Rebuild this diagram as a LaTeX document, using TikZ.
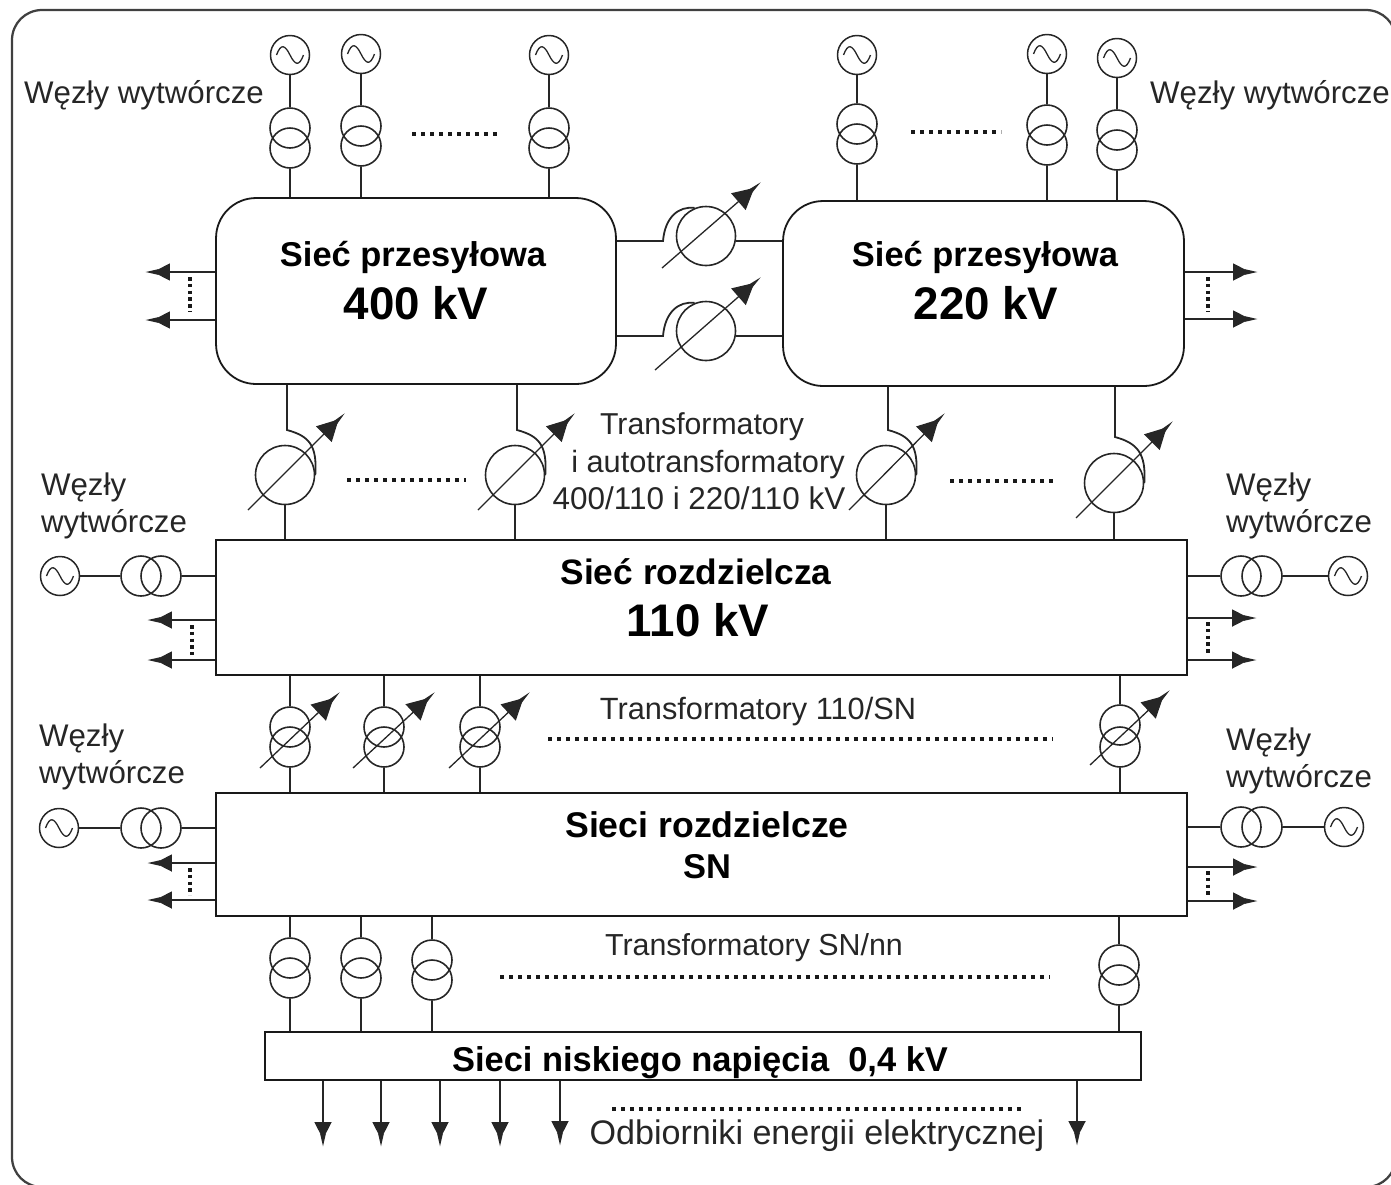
\documentclass[tikz,border=0pt]{standalone}
\usepackage{fontspec}
\setmainfont{Liberation Sans}
\usetikzlibrary{arrows.meta}
\begin{document}
\begin{tikzpicture}[x=0.02cm,y=-0.02cm,
  wire/.style={draw=black!85,line width=0.036cm},
  gen/.style={circle,draw=black!85,line width=0.03cm,minimum size=0.78cm,inner sep=0pt,
    path picture={\draw[line width=0.026cm] ([xshift=-0.27cm]path picture bounding box.center)
      .. controls +(0.09cm,0.24cm) and +(-0.1cm,0.2cm) .. (path picture bounding box.center)
      .. controls +(0.1cm,-0.2cm) and +(-0.09cm,-0.24cm) .. ([xshift=0.27cm]path picture bounding box.center);}},
  coil/.style={circle,draw=black!85,line width=0.032cm,minimum size=0.8cm,inner sep=0pt},
  regu/.style={circle,draw=black!85,line width=0.032cm,minimum size=1.18cm,inner sep=0pt},
  netrd/.style={draw=black!90,line width=0.036cm,rounded corners=0.8cm,inner sep=0pt},
  netbox/.style={draw=black!90,line width=0.04cm,inner sep=0pt},
  load/.style={wire,-{Triangle[length=0.34cm,width=0.34cm,sep=-0.1cm]Triangle[length=0.26cm,width=0.1cm,sep=0pt]}},
  knob/.style={draw=black!85,line width=0.026cm,-{Triangle[length=0.42cm,width=0.44cm,sep=-0.12cm]Triangle[length=0.3cm,width=0.09cm,sep=0pt]}},
  dots/.style={draw=black!90,line width=0.09cm,dash pattern=on 0.08cm off 0.1cm},
  vdots/.style={draw=black!90,line width=0.08cm,dash pattern=on 0.07cm off 0.065cm},
  txt/.style={inner sep=0pt,text=black!85,align=left,font=\fontsize{17.8}{21.5}\selectfont},
  head/.style={inner sep=0pt,font=\bfseries\fontsize{19.6}{24}\selectfont},
  volt/.style={inner sep=0pt,font=\bfseries\fontsize{26}{30}\selectfont}]
\useasboundingbox (0,0) rectangle (1391,1184);
\draw[black!75,line width=0.045cm,rounded corners=0.6cm] (12,10) rectangle (1396,1187);

\node[netrd,minimum width=8cm,minimum height=3.72cm] (b400) at (416,291) {};
\node[netrd,minimum width=8.02cm,minimum height=3.7cm] (b220) at (983.5,293.5) {};
\node[netbox,minimum width=19.42cm,minimum height=2.7cm] (b110) at (701.5,607.5) {};
\node[netbox,minimum width=19.42cm,minimum height=2.46cm] (bsn) at (701.5,854.5) {};
\node[netbox,minimum width=17.52cm,minimum height=0.96cm] (bnn) at (703,1056) {};

\node[head] (t400) at (413,257) {Sieć przesyłowa};
\node[volt] (v400) at (416,303) {400 kV};
\node[head] (t220) at (985,257) {Sieć przesyłowa};
\node[volt] (v220) at (986,303) {220 kV};
\node[head,font=\bfseries\fontsize{20.1}{24}\selectfont] (t110) at (696,572) {Sieć rozdzielcza};
\node[volt] (v110) at (698,620) {110 kV};
\node[head,font=\bfseries\fontsize{20.3}{24}\selectfont] (tsn) at (707,825) {Sieci rozdzielcze};
\node[head] (vsn) at (707,867) {SN};
\node[head] (tnn) at (700,1063) {Sieci niskiego napięcia\ \ 0,4 kV};

\node[txt] (w1) at (144,95) {Węzły wytwórcze};
\node[txt] (w2) at (1270,95) {Węzły wytwórcze};
\node[txt] (w3) at (114,506) {Węzły\\wytwórcze};
\node[txt] (w4) at (1299,506) {Węzły\\wytwórcze};
\node[txt] (w5) at (112,757) {Węzły\\wytwórcze};
\node[txt] (w6) at (1299,761) {Węzły\\wytwórcze};
\node[txt,font=\fontsize{17.2}{21.5}\selectfont] (t1a) at (702,427) {Transformatory};
\node[txt,font=\fontsize{17.5}{21.5}\selectfont] (t1b) at (708,465) {i autotransformatory};
\node[txt,font=\fontsize{17.9}{21.5}\selectfont] (t1c) at (699,498) {400/110 i 220/110 kV};
\node[txt,font=\fontsize{17.5}{21.5}\selectfont] (t2) at (758,712) {Transformatory 110/SN};
\node[txt,font=\fontsize{17.3}{21.5}\selectfont] (t3) at (754,948) {Transformatory SN/nn};
\node[txt,font=\fontsize{19.4}{23}\selectfont] (t4) at (817,1136) {Odbiorniki energii elektrycznej};

\node[gen] (g1) at (290,55) {};
\node[coil] (c1a) at (290,128) {};
\node[coil] (c1b) at (290,148) {};
\draw[wire] (g1) -- (c1a);
\draw[wire] (c1b) -- (c1b |- b400.north);
\node[gen] (g2) at (361,54) {};
\node[coil] (c2a) at (361,126) {};
\node[coil] (c2b) at (361,146) {};
\draw[wire] (g2) -- (c2a);
\draw[wire] (c2b) -- (c2b |- b400.north);
\node[gen] (g3) at (549,55) {};
\node[coil] (c3a) at (549,128) {};
\node[coil] (c3b) at (549,148) {};
\draw[wire] (g3) -- (c3a);
\draw[wire] (c3b) -- (c3b |- b400.north);
\node[gen] (g4) at (857,55) {};
\node[coil] (c4a) at (857,124) {};
\node[coil] (c4b) at (857,144) {};
\draw[wire] (g4) -- (c4a);
\draw[wire] (c4b) -- (c4b |- b220.north);
\node[gen] (g5) at (1047,54) {};
\node[coil] (c5a) at (1047,125) {};
\node[coil] (c5b) at (1047,145) {};
\draw[wire] (g5) -- (c5a);
\draw[wire] (c5b) -- (c5b |- b220.north);
\node[gen] (g6) at (1117,58) {};
\node[coil] (c6a) at (1117,130) {};
\node[coil] (c6b) at (1117,150) {};
\draw[wire] (g6) -- (c6a);
\draw[wire] (c6b) -- (c6b |- b220.north);
\coordinate (d1a) at (412,134);
\coordinate (d1b) at (501,134);
\draw[dots] (d1a) -- (d1b);
\coordinate (d2a) at (911,132);
\coordinate (d2b) at (1001,132);
\draw[dots] (d2a) -- (d2b);

\node[regu] (r1) at (706,236) {};
\coordinate (h1) at (663,241);
\draw[wire] (h1 -| b400.east) -- (h1) .. controls +(2,-24) and +(-16,-2) .. (r1.112);
\draw[wire] (r1.east |- h1) -- (h1 -| b220.west);
\coordinate (k1a) at (662,268);
\coordinate (k1b) at (761,182);
\draw[knob] (k1a) -- (k1b);
\node[regu] (r2) at (706,331) {};
\coordinate (h2) at (663,336);
\draw[wire] (h2 -| b400.east) -- (h2) .. controls +(2,-24) and +(-16,-2) .. (r2.112);
\draw[wire] (r2.east |- h2) -- (h2 -| b220.west);
\coordinate (k2a) at (655,370);
\coordinate (k2b) at (761,277);
\draw[knob] (k2a) -- (k2b);

\coordinate (a1) at (145,272);
\coordinate (a2) at (145,320);
\draw[load] (a1 -| b400.west) -- (a1);
\draw[load] (a2 -| b400.west) -- (a2);
\coordinate (e1a) at (190,277);
\coordinate (e1b) at (190,312);
\draw[vdots] (e1a) -- (e1b);
\coordinate (a3) at (1258,272);
\coordinate (a4) at (1258,319);
\draw[load] (a3 -| b220.east) -- (a3);
\draw[load] (a4 -| b220.east) -- (a4);
\coordinate (e2a) at (1208,277);
\coordinate (e2b) at (1208,312);
\draw[vdots] (e2a) -- (e2b);

\node[regu] (r3) at (285,475) {};
\coordinate (h3) at (287,430);
\draw[wire] (h3 |- b400.south) -- (h3) .. controls +(22,6) and +(2,-30) .. (r3.east);
\draw[wire] (r3) -- (r3 |- b110.north);
\coordinate (k3a) at (248,510);
\coordinate (k3b) at (345,413);
\draw[knob] (k3a) -- (k3b);
\node[regu] (r4) at (515,475) {};
\coordinate (h4) at (517,430);
\draw[wire] (h4 |- b400.south) -- (h4) .. controls +(22,6) and +(2,-30) .. (r4.east);
\draw[wire] (r4) -- (r4 |- b110.north);
\coordinate (k4a) at (478,510);
\coordinate (k4b) at (575,413);
\draw[knob] (k4a) -- (k4b);
\node[regu] (r5) at (886,475) {};
\coordinate (h5) at (888,430);
\draw[wire] (h5 |- b220.south) -- (h5) .. controls +(22,6) and +(2,-30) .. (r5.east);
\draw[wire] (r5) -- (r5 |- b110.north);
\coordinate (k5a) at (849,510);
\coordinate (k5b) at (945,413);
\draw[knob] (k5a) -- (k5b);
\node[regu] (r6) at (1114,483) {};
\coordinate (h6) at (1115,437);
\draw[wire] (h6 |- b220.south) -- (h6) .. controls +(22,6) and +(2,-30) .. (r6.east);
\draw[wire] (r6) -- (r6 |- b110.north);
\coordinate (k6a) at (1076,518);
\coordinate (k6b) at (1173,421);
\draw[knob] (k6a) -- (k6b);
\coordinate (d3a) at (347,480);
\coordinate (d3b) at (466,480);
\draw[dots] (d3a) -- (d3b);
\coordinate (d4a) at (950,481);
\coordinate (d4b) at (1055,481);
\draw[dots] (d4a) -- (d4b);

\node[gen] (g7) at (60,576) {};
\node[coil] (c7a) at (141,576) {};
\node[coil] (c7b) at (161,576) {};
\draw[wire] (g7) -- (c7a);
\draw[wire] (c7b) -- (c7b -| b110.west);
\node[gen] (g8) at (1348,576) {};
\node[coil] (c8a) at (1262,576) {};
\node[coil] (c8b) at (1241,576) {};
\draw[wire] (g8) -- (c8a);
\draw[wire] (c8b) -- (c8b -| b110.east);
\coordinate (a5) at (147,620);
\coordinate (a6) at (147,660);
\draw[load] (a5 -| b110.west) -- (a5);
\draw[load] (a6 -| b110.west) -- (a6);
\coordinate (e3a) at (192,625);
\coordinate (e3b) at (192,655);
\draw[vdots] (e3a) -- (e3b);
\coordinate (a7) at (1257,618);
\coordinate (a8) at (1257,660);
\draw[load] (a7 -| b110.east) -- (a7);
\draw[load] (a8 -| b110.east) -- (a8);
\coordinate (e4a) at (1208,622);
\coordinate (e4b) at (1208,654);
\draw[vdots] (e4a) -- (e4b);

\node[coil] (c9a) at (290,727) {};
\node[coil] (c9b) at (290,747) {};
\draw[wire] (c9a) -- (c9a |- b110.south);
\draw[wire] (c9b) -- (c9b |- bsn.north);
\coordinate (k9a) at (260,768);
\coordinate (k9b) at (340,692);
\draw[knob] (k9a) -- (k9b);
\node[coil] (c10a) at (384,727) {};
\node[coil] (c10b) at (384,747) {};
\draw[wire] (c10a) -- (c10a |- b110.south);
\draw[wire] (c10b) -- (c10b |- bsn.north);
\coordinate (k10a) at (353,768);
\coordinate (k10b) at (435,692);
\draw[knob] (k10a) -- (k10b);
\node[coil] (c11a) at (480,727) {};
\node[coil] (c11b) at (480,747) {};
\draw[wire] (c11a) -- (c11a |- b110.south);
\draw[wire] (c11b) -- (c11b |- bsn.north);
\coordinate (k11a) at (449,768);
\coordinate (k11b) at (530,692);
\draw[knob] (k11a) -- (k11b);
\node[coil] (c12a) at (1120,725) {};
\node[coil] (c12b) at (1120,747) {};
\draw[wire] (c12a) -- (c12a |- b110.south);
\draw[wire] (c12b) -- (c12b |- bsn.north);
\coordinate (k12a) at (1090,765);
\coordinate (k12b) at (1170,690);
\draw[knob] (k12a) -- (k12b);
\coordinate (d5a) at (548,739);
\coordinate (d5b) at (1052,739);
\draw[dots] (d5a) -- (d5b);

\node[gen] (g13) at (59,828) {};
\node[coil] (c13a) at (141,828) {};
\node[coil] (c13b) at (161,828) {};
\draw[wire] (g13) -- (c13a);
\draw[wire] (c13b) -- (c13b -| bsn.west);
\node[gen] (g14) at (1344,827) {};
\node[coil] (c14a) at (1262,827) {};
\node[coil] (c14b) at (1241,827) {};
\draw[wire] (g14) -- (c14a);
\draw[wire] (c14b) -- (c14b -| bsn.east);
\coordinate (a9) at (147,863);
\coordinate (a10) at (147,900);
\draw[load] (a9 -| bsn.west) -- (a9);
\draw[load] (a10 -| bsn.west) -- (a10);
\coordinate (e5a) at (190,868);
\coordinate (e5b) at (190,895);
\draw[vdots] (e5a) -- (e5b);
\coordinate (a11) at (1258,867);
\coordinate (a12) at (1258,901);
\draw[load] (a11 -| bsn.east) -- (a11);
\draw[load] (a12 -| bsn.east) -- (a12);
\coordinate (e6a) at (1208,871);
\coordinate (e6b) at (1208,897);
\draw[vdots] (e6a) -- (e6b);

\node[coil] (c15a) at (290,958) {};
\node[coil] (c15b) at (290,978) {};
\draw[wire] (c15a) -- (c15a |- bsn.south);
\draw[wire] (c15b) -- (c15b |- bnn.north);
\node[coil] (c16a) at (361,958) {};
\node[coil] (c16b) at (361,978) {};
\draw[wire] (c16a) -- (c16a |- bsn.south);
\draw[wire] (c16b) -- (c16b |- bnn.north);
\node[coil] (c17a) at (432,960) {};
\node[coil] (c17b) at (432,980) {};
\draw[wire] (c17a) -- (c17a |- bsn.south);
\draw[wire] (c17b) -- (c17b |- bnn.north);
\node[coil] (c18a) at (1119,965) {};
\node[coil] (c18b) at (1119,985) {};
\draw[wire] (c18a) -- (c18a |- bsn.south);
\draw[wire] (c18b) -- (c18b |- bnn.north);
\coordinate (d6a) at (500,977);
\coordinate (d6b) at (1050,977);
\draw[dots] (d6a) -- (d6b);

\coordinate (o1) at (323,1147);
\coordinate (o2) at (381,1147);
\coordinate (o3) at (440,1147);
\coordinate (o4) at (500,1147);
\coordinate (o5) at (560,1146);
\coordinate (o6) at (1077,1146);
\draw[load] (o1 |- bnn.south) -- (o1);
\draw[load] (o2 |- bnn.south) -- (o2);
\draw[load] (o3 |- bnn.south) -- (o3);
\draw[load] (o4 |- bnn.south) -- (o4);
\draw[load] (o5 |- bnn.south) -- (o5);
\draw[load] (o6 |- bnn.south) -- (o6);
\coordinate (d7a) at (612,1109);
\coordinate (d7b) at (1024,1109);
\draw[dots] (d7a) -- (d7b);
\end{tikzpicture}
\end{document}
